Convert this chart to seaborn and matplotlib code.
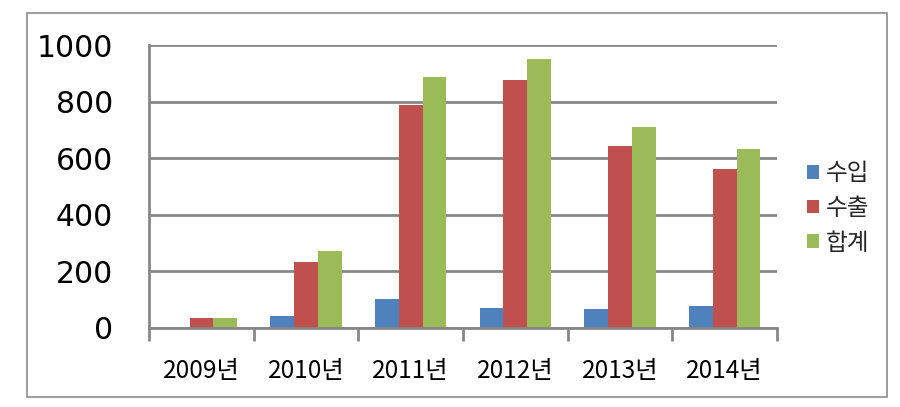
import matplotlib
matplotlib.use("Agg")
import matplotlib.pyplot as plt
import seaborn as sns
import pandas as pd
from matplotlib.patches import Rectangle
from matplotlib.ticker import FixedLocator

years = ["2009년", "2010년", "2011년", "2012년", "2013년", "2014년"]
series = ["수입", "수출", "합계"]
import_vals = [0, 40, 102, 71, 65, 78]
export_vals = [34, 232, 788, 877, 643, 561]
total_vals = [34, 273, 887, 949, 710, 632]
colors = ["#4F81BD", "#C0504D", "#9BBB59"]
yticks = [0, 200, 400, 600, 800, 1000]

rows = []
for name, vals in zip(series, [import_vals, export_vals, total_vals]):
    for y, v in zip(years, vals):
        rows.append({"year": y, "series": name, "value": v})
df = pd.DataFrame(rows)

sns.set_theme(style="white")
plt.rcParams['font.family'] = ['Noto Sans CJK KR', 'DejaVu Sans']

fig = plt.figure(figsize=(9, 4.07), dpi=100)
ax = fig.add_axes([0.1656, 0.1948, 0.8633 - 0.1656, 0.8894 - 0.1948])

sns.barplot(data=df, x="year", y="value", hue="series", order=years,
            hue_order=series, palette=colors, width=0.68, gap=0,
            saturation=1, ax=ax, legend=True, errorbar=None, linewidth=0)

gc = "#878787"
ax.set_ylim(0, 1000)
ax.set_xlim(-0.5, 5.5)
ax.set_yticks(yticks)
ax.set_yticklabels([str(t) for t in yticks], fontsize=21.5, family="DejaVu Sans", color="black")
ax.tick_params(axis="y", length=13, width=2, color=gc, pad=13)
ax.yaxis.grid(True, color=gc, linewidth=2)
ax.set_axisbelow(True)
ax.set_xlabel("")
ax.set_ylabel("")
ax.tick_params(axis="x", which="major", length=0, pad=22, labelsize=17.5, labelcolor="black")
ax.xaxis.set_minor_locator(FixedLocator([i - 0.5 for i in range(7)]))
ax.tick_params(axis="x", which="minor", length=9, width=2, color=gc, bottom=True)
for s in ["top", "right"]:
    ax.spines[s].set_visible(False)
for s in ["left", "bottom"]:
    ax.spines[s].set_color(gc)
    ax.spines[s].set_linewidth(2)

handles, labels = ax.get_legend_handles_labels()
ax.get_legend().remove()
fig.legend(handles, labels, loc="center left", bbox_to_anchor=(0.886, 0.488),
           frameon=False, fontsize=17, handlelength=0.52, handleheight=0.52,
           handletextpad=0.3, labelspacing=0.5, borderaxespad=0)

fig.patches.append(Rectangle((27 / 900, 1 - 397 / 407), (887 - 27) / 900, (397 - 13) / 407,
                             transform=fig.transFigure, fill=False, edgecolor="#8c8c8c",
                             linewidth=1.2))

fig.savefig("out.png", dpi=100)
